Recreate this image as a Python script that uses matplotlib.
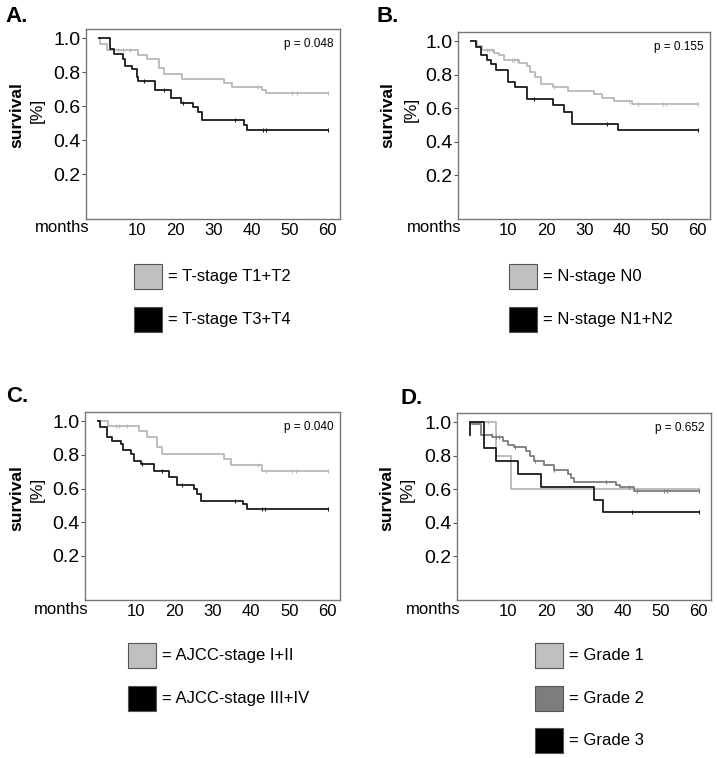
"""Kaplan-Meier survival curves by T-stage, N-stage, AJCC stage and grade."""
import matplotlib
matplotlib.use('Agg')
import matplotlib.pyplot as plt
from matplotlib.patches import Rectangle

plt.rcParams['font.family'] = ['Liberation Sans', 'DejaVu Sans']

W, H = 717, 758

LIGHT = '#b9b9b9'
MID = '#7d7d7d'
DARK = '#1a1a1a'

# ---- data (months, survival fraction after each event, censor times) ----
a_low_t = [0.3, 2.3, 10.4, 12.6, 15.7, 17.0, 21.9, 32.7, 34.9, 42.7, 43.7]
a_low_s = [0.965, 0.93, 0.905, 0.876, 0.826, 0.79, 0.763, 0.737, 0.712, 0.694, 0.68]
a_low_c = [5.2, 6.5, 8.2, 41.8, 50.6, 51.9, 60]
a_high_t = [3.0, 3.9, 6.5, 6.9, 8.7, 10.0, 10.4, 14.8, 19.0, 21.7, 24.8, 26.1, 27.0, 38.0, 38.8]
a_high_s = [0.935, 0.909, 0.88, 0.84, 0.818, 0.77, 0.747, 0.698, 0.652, 0.622, 0.597,
            0.569, 0.518, 0.49, 0.463]
a_high_c = [11.9, 17.0, 22.0, 35.7, 43.0, 43.8, 60]

b_low_t = [1.8, 3.0, 6.2, 7.5, 8.8, 12.8, 14.8, 15.8, 17.0, 18.7, 21.9, 25.6, 32.6, 34.8,
           37.9, 42.7]
b_low_s = [0.97, 0.945, 0.93, 0.915, 0.89, 0.868, 0.85, 0.817, 0.787, 0.744, 0.724, 0.705,
           0.685, 0.66, 0.64, 0.622]
b_low_c = [4.3, 4.9, 5.8, 11.0, 11.6, 12.2, 22.0, 41.9, 44.1, 50.7, 51.5, 60]
b_high_t = [1.4, 2.9, 4.3, 5.4, 6.7, 9.8, 11.7, 14.8, 21.9, 24.7, 26.9, 38.8]
b_high_s = [0.965, 0.92, 0.89, 0.862, 0.83, 0.758, 0.724, 0.655, 0.62, 0.58, 0.508, 0.469]
b_high_c = [16.7, 35.9, 60]

c_low_t = [2.7, 10.8, 12.8, 15.6, 16.7, 32.9, 34.8, 42.8]
c_low_s = [0.974, 0.944, 0.905, 0.845, 0.805, 0.776, 0.74, 0.706]
c_low_c = [4.7, 5.5, 7.7, 41.8, 43.9, 50.7, 51.8, 60]
c_high_t = [0.7, 2.5, 3.8, 6.0, 6.7, 8.6, 9.5, 11.2, 14.7, 18.6, 20.8, 25.2, 26.0, 26.9,
            37.8, 39.0]
c_high_s = [0.964, 0.905, 0.885, 0.865, 0.829, 0.805, 0.766, 0.746, 0.706, 0.667, 0.623,
            0.597, 0.567, 0.527, 0.508, 0.478]
c_high_c = [11.6, 16.9, 21.9, 35.7, 42.8, 43.7, 60]

d_g1_t = [7.0, 10.9]
d_g1_s = [0.8, 0.6]
d_g1_c = [4.9, 60]
d_g2_t = [0.5, 3.0, 5.9, 8.8, 10.1, 11.5, 14.8, 15.7, 16.8, 19.4, 22.0, 25.7, 26.5, 27.4,
          38.2, 39.4, 43.0]
d_g2_s = [0.987, 0.925, 0.909, 0.89, 0.865, 0.85, 0.826, 0.796, 0.767, 0.747, 0.717, 0.692,
          0.668, 0.644, 0.624, 0.613, 0.589]
d_g2_c = [5.8, 6.8, 7.6, 12.0, 17.0, 22.2, 35.8, 41.7, 43.9, 50.8, 51.7, 60]
d_g3_start = 0.923
d_g3_t = [3.8, 7.0, 12.8, 18.7, 32.6, 34.8]
d_g3_s = [0.846, 0.769, 0.692, 0.615, 0.538, 0.462]
d_g3_c = [42.6, 60]

p_values = ['p = 0.048', 'p = 0.155', 'p = 0.040', 'p = 0.652']
panel_labels = ['A.', 'B.', 'C.', 'D.']
legend_labels = [
    ['= T-stage T1+T2', '= T-stage T3+T4'],
    ['= N-stage N0', '= N-stage N1+N2'],
    ['= AJCC-stage I+II', '= AJCC-stage III+IV'],
    ['= Grade 1', '= Grade 2', '= Grade 3'],
]
yticks = [0.2, 0.4, 0.6, 0.8, 1.0]
xticks = [10, 20, 30, 40, 50, 60]

fig = plt.figure(figsize=(W / 100, H / 100), dpi=100)


def fx(x):
    return x / W


def fy(y):
    return 1 - y / H


def make_axes(left, top, right, bottom):
    return fig.add_axes([fx(left), fy(bottom), (right - left) / W, (bottom - top) / H])


def km(ax, t, s, cens, color, start=None):
    xs = [0] + t + [60]
    ys = [1.0] + s + [s[-1]]
    if start is not None:
        xs = [0] + xs
        ys = [start] + ys
    ax.step(xs, ys, where='post', color=color, lw=1.3, zorder=3)
    yc = []
    for c in cens:
        v = 1.0
        for ti, si in zip(t, s):
            if ti <= c:
                v = si
        yc.append(v)
    ax.plot(cens, yc, ls='none', marker='|', ms=3, mew=0.8, color=color, zorder=4)


boxes = [(86, 29, 340, 219), (458, 32, 710, 219), (85, 412, 340, 600), (457, 413, 711, 600)]
axes = [make_axes(*b) for b in boxes]

km(axes[0], a_low_t, a_low_s, a_low_c, LIGHT)
km(axes[0], a_high_t, a_high_s, a_high_c, DARK)
km(axes[1], b_low_t, b_low_s, b_low_c, LIGHT)
km(axes[1], b_high_t, b_high_s, b_high_c, DARK)
km(axes[2], c_low_t, c_low_s, c_low_c, LIGHT)
km(axes[2], c_high_t, c_high_s, c_high_c, DARK)
km(axes[3], d_g1_t, d_g1_s, d_g1_c, LIGHT)
km(axes[3], d_g2_t, d_g2_s, d_g2_c, MID)
km(axes[3], d_g3_t, d_g3_s, d_g3_c, DARK, start=d_g3_start)

for ax, p in zip(axes, p_values):
    ax.set_xlim(-3.3, 63.2)
    ax.set_ylim(-0.062, 1.055)
    ax.set_xticks(xticks)
    ax.set_yticks(yticks)
    ax.set_yticklabels([f'{v:.1f}' for v in yticks], fontsize=14)
    ax.set_xticklabels([str(v) for v in xticks], fontsize=12)
    ax.tick_params(axis='y', length=3, width=0.8, pad=1, color='#555555')
    ax.tick_params(axis='x', length=0, pad=3)
    for sp in ax.spines.values():
        sp.set_color('#777777')
        sp.set_linewidth(1.0)
    ax.text(0.975, 0.92, p, transform=ax.transAxes, ha='right', va='center', fontsize=8.5)

# panel labels, axis words
label_pos = [(5, 17), (377, 17), (6, 397), (401, 398)]
for (x, y), lab in zip(label_pos, panel_labels):
    fig.text(fx(x), fy(y), lab, fontsize=16, fontweight='bold', ha='left', va='center')

surv_pos = [(17, 115, 37, 110), (388, 115, 411, 109), (17, 498, 37, 489), (387, 498, 407, 489)]
for sx, sy, px, py in surv_pos:
    fig.text(fx(sx), fy(sy), 'survival', rotation=90, fontsize=12.5, fontweight='bold',
             ha='center', va='center')
    fig.text(fx(px), fy(py), '[%]', rotation=90, fontsize=12.5, ha='center', va='center')

months_pos = [(62, 228), (434, 228), (61, 609), (433, 609)]
for x, y in months_pos:
    fig.text(fx(x), fy(y), 'months', fontsize=12, ha='center', va='center')

# legends
legend_spec = [
    (134, [264, 307], [LIGHT, 'black']),
    (509, [264, 307], [LIGHT, 'black']),
    (128, [643, 686], [LIGHT, 'black']),
    (535, [643, 686, 728], [LIGHT, MID, 'black']),
]
for (x, ys, cols), labels in zip(legend_spec, legend_labels):
    for y, col, lab in zip(ys, cols, labels):
        fc = '#c0c0c0' if col == LIGHT else col
        fig.add_artist(Rectangle((fx(x), fy(y + 25)), 28 / W, 25 / H, transform=fig.transFigure,
                                 facecolor=fc, edgecolor='#555555', linewidth=0.8))
        fig.text(fx(x + 34), fy(y + 12.5), lab, fontsize=12, ha='left', va='center')

fig.savefig('out.png', dpi=100)
